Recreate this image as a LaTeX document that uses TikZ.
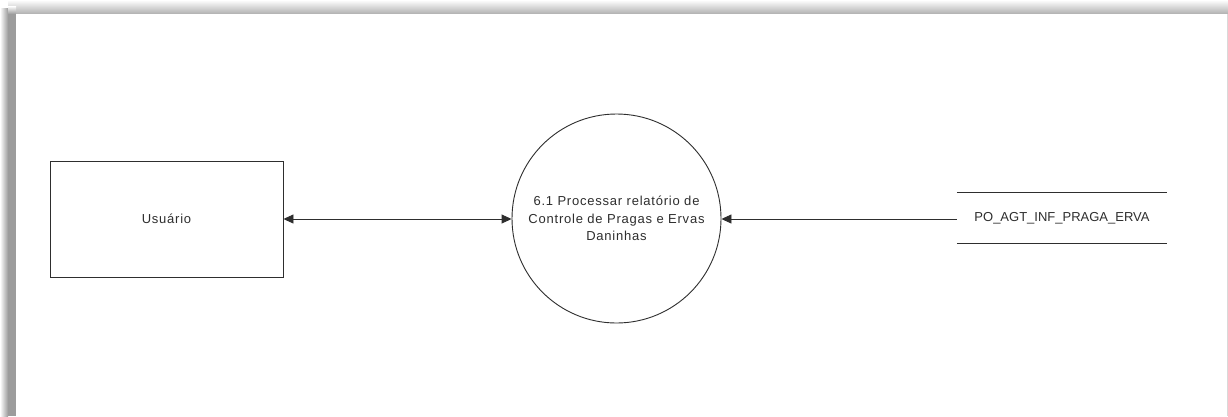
\documentclass[tikz,border=0pt]{standalone}
\usepackage{fontspec}
\setmainfont{Liberation Sans}
\newfontfamily\spacedfont[LetterSpace=6]{Liberation Sans}
\usetikzlibrary{arrows.meta}
\definecolor{ink}{HTML}{2E2E2E}
\definecolor{shadowgray}{HTML}{9C9C9C}
\begin{document}
\begin{tikzpicture}[x=1pt,y=-1pt,
  flow/.style={draw=ink, line width=0.9pt},
  entity/.style={flow, minimum width=233pt, minimum height=116pt, inner sep=0pt},
  process/.style={flow, circle, minimum size=209pt, inner sep=0pt},
  store/.style={minimum width=210pt, minimum height=50pt, inner sep=0pt},
  label/.style={font=\fontsize{13}{17.5}\selectfont, align=center, text=ink},
  spaced/.style={font=\spacedfont\fontsize{13}{17.5}\selectfont},
  tip/.style={-{Triangle[length=10pt,width=9pt]}},
  both/.style={{Triangle[length=10pt,width=9pt]}-{Triangle[length=10pt,width=9pt]}}]
\useasboundingbox (0,0) rectangle (1228,416);
\fill[white] (0,0) rectangle (1228,416);
% page shadow along the top and left edges
\shade[top color=white, bottom color=shadowgray!80] (8,0) rectangle (1228,14);
\shade[left color=white, right color=shadowgray] (0,8) rectangle (8,416);
\fill[shadowgray] (8,14) rectangle (16,416);
\shade[top color=white, bottom color=shadowgray] (8,6) rectangle (16,14);
\fill[white] (16,14) rectangle (1226.5,416);
\draw[black!15, line width=1pt] (1227,14) -- (1227,416);
% diagram
\node[entity, label, spaced] (user) at (166.5,219) {Usuário};
\node[process, label, spaced] (proc) at (616.5,218.5) {6.1 Processar relatório de\\Controle de Pragas e Ervas\\Daninhas};
\node[store, label] (db) at (1062,218) {PO\_AGT\_INF\_PRAGA\_ERVA};
\draw[flow] (db.north west) -- (db.north east);
\draw[flow] (db.south west) -- (db.south east);
\draw[flow, both] (user.east |- 0,219) -- (proc.west |- 0,219);
\draw[flow, tip] (db.west |- 0,219) -- (proc.east |- 0,219);
\end{tikzpicture}
\end{document}
